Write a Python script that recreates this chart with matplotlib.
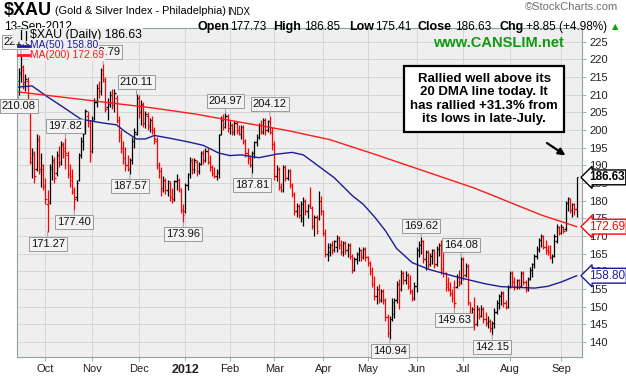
import numpy as np
import pandas as pd
import matplotlib
matplotlib.use('Agg')
import matplotlib.pyplot as plt
import matplotlib.transforms as mtrans
from matplotlib.lines import Line2D

plt.rcParams['font.family'] = ['Liberation Sans', 'DejaVu Sans']

# trading days shown (Sep 15 2011 .. Sep 13 2012)
holidays = ['2011-11-24', '2011-12-26', '2012-01-02', '2012-01-16', '2012-02-20',
            '2012-04-06', '2012-05-28', '2012-07-04', '2012-09-03']
dates = pd.bdate_range('2011-09-15', '2012-09-13')
dates = dates[~dates.isin(pd.to_datetime(holidays))]

# daily OHLC
opens = [214.0, 216.0, 217.0, 213.5, 214.0, 206.0, 191.0, 193.0, 189.0, 197.0, 189.0, 189.0,
         184.0, 179.0, 180.0, 189.0, 191.0, 188.0, 193.0, 191.0, 195.5, 195.0, 193.0, 187.5, 187.0, 182.5, 181.0, 186.0, 193.0, 197.0, 200.0, 204.0, 202.0,
         194.0, 203.5, 208.0, 212.0, 211.0, 216.0, 214.0, 206.5, 208.0, 210.0, 207.0, 209.0, 203.0, 198.5, 195.0, 192.0, 190.0, 189.0, 191.5, 197.0, 199.0,
         209.0, 205.0, 207.0, 202.0, 204.0, 201.5, 203.0, 200.0, 197.0, 190.0, 188.5, 183.5, 186.0, 183.0, 185.0, 181.0, 180.5, 185.5, 186.0, 183.0, 177.5,
         177.0, 184.5, 187.5, 191.0, 189.0, 191.0, 188.5, 190.5, 193.5, 191.5, 194.0, 191.0, 189.5, 188.0, 187.0, 188.0, 199.0, 203.0, 201.0, 204.0,
         200.5, 201.5, 199.5, 202.0, 200.0, 199.0, 201.0, 197.0, 193.5, 192.0, 190.0, 193.5, 196.5, 198.0, 201.5, 199.5, 203.0, 200.0, 202.5, 199.5,
         196.0, 187.0, 189.0, 184.0, 183.0, 189.5, 186.5, 188.5, 184.5, 182.0, 177.0, 178.5, 176.0, 175.0, 180.0, 177.0, 179.0, 178.0, 173.0, 175.5, 175.0, 180.0,
         177.0, 171.0, 165.0, 165.5, 167.5, 166.0, 167.0, 169.5, 167.5, 165.5, 168.0, 166.0, 167.5, 164.5, 160.5, 163.5, 165.0, 166.0, 164.0, 166.5,
         164.0, 162.5, 160.0, 156.5, 153.0, 155.0, 152.0, 154.5, 152.0, 147.0, 142.5, 146.5, 148.0, 152.0, 156.5, 155.0, 159.5, 157.5, 159.0, 156.0, 154.5, 152.5,
         156.0, 166.0, 167.5, 168.5, 163.5, 165.5, 162.0, 164.5, 166.0, 162.0, 166.5, 167.5, 161.0, 159.5, 156.5, 155.0, 154.0, 155.5, 155.5, 158.5, 157.0,
         163.5, 159.0, 161.5, 151.5, 147.5, 149.5, 145.0, 149.5, 147.5, 149.5, 146.5, 145.5, 146.0, 144.0, 145.5, 148.5, 151.0, 153.0, 154.0, 151.0, 150.0,
         155.5, 159.5, 157.0, 155.5, 157.5, 156.0, 159.5, 157.0, 155.0, 158.0, 160.5, 162.0, 164.5, 166.5, 169.0, 170.0, 167.0, 166.0, 165.5, 164.0, 164.5, 168.5, 172.5,
         171.0, 172.5, 172.0, 179.5, 180.5, 177.5, 179.0, 177.73]
highs = [217.5, 221.6, 218.5, 216.0, 215.0, 207.5, 195.0, 194.0, 199.0, 198.5, 193.5, 190.5,
         186.5, 183.0, 190.5, 193.0, 192.5, 194.0, 195.5, 197.0, 196.5, 197.82, 194.0, 190.5, 189.0, 184.0, 186.0, 193.5, 198.0, 200.0, 206.0, 205.5, 203.0,
         204.0, 209.0, 213.0, 214.0, 217.5, 218.79, 215.0, 209.0, 211.0, 211.5, 211.5, 210.0, 204.0, 200.0, 197.0, 195.3, 193.0, 192.0, 198.0, 200.5, 210.11,
         209.8, 208.5, 208.0, 205.5, 205.0, 203.5, 204.0, 201.0, 198.0, 191.0, 189.5, 187.0, 186.5, 186.0, 185.5, 183.5, 186.0, 187.5, 186.5, 183.5, 179.0,
         185.0, 188.0, 192.5, 192.0, 192.0, 191.5, 191.0, 194.0, 194.5, 195.0, 195.0, 193.0, 190.0, 189.5, 189.0, 199.0, 204.0, 204.5, 204.97, 204.5,
         202.5, 202.0, 202.5, 202.5, 201.5, 201.5, 201.5, 197.5, 195.0, 193.0, 194.0, 197.0, 199.0, 202.0, 203.0, 203.5, 203.5, 203.0, 204.12, 201.0,
         197.0, 190.0, 189.5, 185.0, 190.0, 190.0, 189.0, 189.0, 185.0, 182.5, 179.5, 179.0, 180.0, 181.0, 180.5, 179.0, 183.8, 178.5, 176.0, 176.0, 182.8, 181.5,
         177.5, 172.0, 168.0, 168.0, 168.5, 169.0, 170.4, 170.0, 169.0, 168.5, 168.5, 168.0, 168.0, 165.0, 164.0, 165.6, 166.8, 166.5, 167.0, 167.0,
         164.4, 163.0, 161.2, 158.8, 156.0, 156.5, 155.0, 155.0, 152.5, 148.0, 147.5, 152.5, 152.5, 157.3, 158.0, 160.5, 160.0, 160.0, 159.5, 158.9, 155.0, 157.0,
         166.8, 168.5, 169.62, 169.0, 166.0, 166.0, 165.2, 166.5, 166.5, 167.3, 168.0, 168.9, 165.5, 159.8, 158.5, 157.0, 155.0, 157.7, 159.3, 160.5, 164.08,
         164.0, 162.5, 162.0, 151.5, 150.0, 152.9, 150.5, 150.0, 150.5, 150.0, 148.5, 147.3, 146.5, 146.0, 149.7, 152.0, 153.7, 154.5, 154.5, 152.0, 156.1,
         160.1, 160.0, 158.4, 158.0, 158.0, 160.1, 160.0, 157.5, 158.5, 161.2, 162.5, 165.0, 167.3, 169.5, 170.7, 170.3, 169.0, 167.5, 167.5, 165.0, 170.7, 173.4, 173.0,
         173.4, 173.0, 180.0, 181.2, 180.8, 179.4, 179.5, 186.85]
lows = [210.08, 213.5, 211.5, 211.0, 206.5, 190.5, 186.5, 185.0, 188.5, 187.5, 184.0, 183.0,
        179.0, 171.27, 179.0, 186.0, 185.0, 187.0, 189.5, 190.0, 192.0, 189.0, 186.5, 184.0, 182.0, 177.40, 180.0, 185.5, 192.0, 194.5, 199.0, 201.0, 191.0,
        193.5, 203.0, 206.5, 209.0, 210.0, 213.5, 205.0, 203.0, 206.5, 206.0, 205.0, 202.0, 196.5, 193.5, 190.5, 188.5, 188.3, 187.57, 190.5, 195.0, 198.5,
        203.5, 201.5, 201.0, 200.5, 200.0, 199.5, 199.0, 196.0, 189.0, 186.5, 181.5, 182.5, 182.0, 181.5, 180.0, 179.5, 180.0, 183.0, 182.5, 176.5, 173.96,
        176.5, 183.0, 186.5, 187.5, 188.0, 187.0, 187.5, 190.0, 190.5, 191.0, 190.5, 188.5, 187.0, 186.5, 186.0, 186.5, 198.5, 200.0, 200.5, 199.5,
        199.0, 198.5, 198.5, 199.0, 198.5, 197.5, 196.0, 192.5, 190.5, 189.5, 187.81, 192.0, 195.5, 197.5, 199.0, 199.0, 198.5, 199.5, 199.0, 194.5,
        186.0, 185.5, 183.0, 182.5, 182.5, 185.5, 185.8, 183.5, 181.0, 176.0, 175.5, 175.0, 174.0, 173.0, 176.0, 175.0, 177.9, 172.0, 170.0, 170.5, 174.5, 176.0,
        170.0, 164.0, 163.0, 164.5, 165.0, 165.5, 165.6, 166.5, 164.8, 164.5, 165.0, 164.0, 163.5, 159.7, 160.0, 162.0, 163.0, 163.0, 163.5, 162.9,
        161.6, 159.0, 155.6, 152.0, 150.9, 151.0, 151.5, 150.9, 146.0, 141.5, 140.94, 146.0, 146.9, 151.0, 149.3, 154.5, 156.5, 156.5, 155.0, 153.5, 151.7, 152.0,
        154.1, 164.0, 165.0, 162.5, 160.5, 161.0, 161.5, 162.0, 161.0, 161.5, 164.5, 159.3, 158.5, 154.5, 154.5, 153.0, 151.5, 149.63, 155.3, 156.0, 156.5,
        157.7, 158.5, 150.5, 146.5, 146.5, 143.3, 144.5, 146.5, 147.0, 145.5, 144.5, 144.0, 143.0, 142.15, 144.1, 148.0, 149.5, 150.5, 150.0, 149.5, 149.8,
        155.3, 156.0, 154.8, 155.0, 155.0, 155.5, 156.1, 154.2, 154.5, 157.5, 158.4, 161.0, 163.5, 165.5, 167.0, 166.5, 165.0, 164.8, 163.5, 162.5, 164.0, 168.0, 170.3,
        170.5, 170.8, 171.5, 177.0, 176.5, 175.3, 176.0, 175.41]
closes = [216.5, 218.0, 213.0, 214.5, 208.0, 192.0, 193.5, 187.0, 197.5, 188.5, 190.0, 184.5,
          180.5, 179.5, 189.5, 191.5, 186.5, 193.0, 190.5, 196.0, 194.0, 193.5, 187.5, 186.0, 183.0, 180.5, 185.0, 193.0, 197.0, 199.0, 205.5, 203.0, 193.0,
          203.0, 208.0, 212.0, 211.0, 217.0, 214.5, 206.0, 207.5, 210.0, 207.0, 210.5, 203.0, 198.0, 195.0, 192.0, 190.0, 189.0, 191.5, 197.0, 199.5, 209.0,
          205.0, 207.5, 202.0, 204.5, 201.0, 203.0, 200.0, 197.5, 190.0, 188.5, 183.0, 186.0, 183.0, 185.5, 181.0, 180.0, 185.5, 186.0, 183.5, 177.5, 176.0,
          184.5, 187.5, 191.5, 189.0, 191.5, 188.5, 190.5, 193.5, 191.5, 194.0, 191.0, 189.5, 188.0, 187.0, 188.5, 198.5, 203.0, 201.0, 204.0, 200.5,
          201.5, 199.5, 202.0, 200.0, 199.0, 201.0, 197.0, 193.5, 192.0, 190.0, 193.5, 196.5, 198.0, 201.5, 199.5, 203.0, 200.0, 202.5, 199.5, 196.0,
          187.0, 189.0, 184.0, 183.0, 189.5, 186.5, 188.5, 184.5, 182.0, 177.0, 178.5, 176.0, 179.0, 180.0, 177.0, 178.5, 178.0, 173.0, 175.5, 171.5, 180.0, 177.0,
          171.0, 165.0, 167.0, 167.5, 166.0, 168.5, 169.5, 167.5, 165.5, 168.0, 166.0, 167.5, 164.5, 160.5, 163.5, 165.0, 166.0, 164.0, 166.5, 164.0,
          162.5, 160.0, 156.5, 153.0, 155.0, 152.0, 154.5, 152.0, 147.0, 142.5, 146.5, 151.5, 152.0, 156.5, 155.0, 159.5, 157.5, 159.0, 156.0, 154.5, 152.5, 156.0,
          166.0, 167.5, 168.5, 163.5, 165.5, 162.0, 164.5, 166.0, 162.0, 166.5, 167.5, 160.5, 159.5, 155.5, 155.0, 154.0, 152.5, 151.0, 158.5, 156.5, 163.5,
          159.0, 161.5, 151.5, 147.5, 149.5, 145.0, 149.5, 147.5, 149.5, 146.5, 145.5, 146.0, 144.0, 145.5, 148.5, 151.0, 153.0, 154.0, 151.0, 150.0, 155.5,
          159.5, 157.0, 155.5, 157.5, 156.0, 159.5, 157.0, 155.0, 158.0, 160.5, 162.0, 164.5, 166.5, 169.0, 170.0, 167.0, 166.0, 165.5, 164.0, 164.5, 170.0, 172.5, 171.0,
          172.5, 171.5, 179.5, 180.8, 177.5, 179.0, 177.78, 186.63]

# moving averages read at a few bars
ma50_idx = [0, 6, 13, 20, 28, 37, 44, 48, 53, 57, 61, 68, 76, 83, 90, 95, 100, 108, 116, 123,
            128, 133, 142, 150, 155, 160, 165, 170, 177, 185, 195, 202, 210, 217, 225, 232, 238, 244, 251]
ma50 = [212.2, 212.5, 209.4, 206.5, 203.1, 202.1, 201.5, 199.5, 197.5, 197.5, 198.5, 197.7, 196.7, 195.7, 193.5, 192.8, 193.0, 192.2, 193.2, 193.7,
        193.0, 190.7, 186.5, 181.5, 179.0, 175.5, 171.5, 166.5, 162.5, 160.5, 158.8, 157.7, 156.5, 155.7, 155.5, 155.3, 155.8, 157.0, 158.8]
ma200_idx = [0, 20, 40, 60, 80, 100, 120, 140, 160, 175, 190, 205, 220, 235, 251]
ma200 = [210.8, 209.3, 207.8, 206.3, 204.5, 202.2, 200.0, 197.3, 193.2, 190.0, 186.8, 183.6, 179.8, 176.0, 172.69]

# high / low value tags
tag_idx = [0, 1, 13, 21, 25, 38, 50, 53, 74, 93, 105, 113, 167, 181, 196, 199, 213]
tag_val = [210.08, 221.6, 171.27, 197.82, 177.40, 218.79, 187.57, 210.11, 173.96, 204.97, 187.81, 204.12,
           140.94, 169.62, 149.63, 164.08, 142.15]
tag_side = ['low', 'high', 'low', 'high', 'low', 'high', 'low', 'high', 'low', 'high', 'low', 'high',
            'low', 'high', 'low', 'high', 'low']

yticks = list(range(140, 226, 5))

W, H = 626, 377
def fx(px):
    return px / W
def fy(py):
    return 1 - py / H

fig = plt.figure(figsize=(W / 100, H / 100), dpi=100)
ax = fig.add_axes([fx(16.5), fy(357), fx(582) - fx(16.5), fy(28) - fy(357)])
ax.set_facecolor('#efefef')
for s in ax.spines.values():
    s.set_color('#8fa3a3')
    s.set_linewidth(0.8)

o = np.array(opens); h = np.array(highs); l = np.array(lows); c = np.array(closes)
x = np.arange(len(c))
prev = np.r_[o[0], c[:-1]]
col = np.where(c < prev, '#ff0000', '#000000')
ax.vlines(x, l, h, colors=col, lw=0.9, zorder=3)
ax.hlines(o, x - 0.55, x, colors=col, lw=0.9, zorder=3)
ax.hlines(c, x, x + 0.55, colors=col, lw=0.9, zorder=3)

ax.plot(ma50_idx, ma50, color='#1c1c96', lw=1.0, zorder=4)
ax.plot(ma200_idx, ma200, color='#ff1a1a', lw=1.0, zorder=4)

ax.set_xlim(-1.0, 253.4)
ax.set_ylim(135.8, 228.9)

# month ticks at first trading day
month_first = [i for i in range(1, len(dates)) if dates[i].month != dates[i - 1].month]
month_lab = [('2012' if dates[i].month == 1 else dates[i].strftime('%b')) for i in month_first]
ax.set_xticks(month_first)
ax.set_xticklabels(month_lab, fontsize=8, color='#222222')
for t in ax.get_xticklabels():
    if t.get_text() == '2012':
        t.set_fontweight('bold')
        t.set_fontsize(9)
ax.yaxis.tick_right()
ax.set_yticks(yticks)
ax.set_yticklabels([str(v) for v in yticks], fontsize=8, color='#222222')
ax.tick_params(axis='both', length=3, width=0.6, color='#8fa3a3', pad=2)
ax.grid(True, color='#d5d5d5', lw=0.7, zorder=0)
ax.set_axisbelow(True)

for i, v, side in zip(tag_idx, tag_val, tag_side):
    up = side == 'high'
    ax.annotate(f'{v:.2f}', xy=(i, v), xytext=(0, 5 if up else -5), textcoords='offset points',
                ha='center', va='bottom' if up else 'top', fontsize=8, color='#111111',
                bbox=dict(boxstyle='square,pad=0.18', fc='#f3f3f3', ec='#9a9a9a', lw=0.7),
                arrowprops=dict(arrowstyle='-', color='#9a9a9a', lw=0.7, shrinkA=0, shrinkB=0),
                annotation_clip=False, zorder=6)

# legend inside the plot (covers tags underneath)
leg_bg = dict(boxstyle='square,pad=0.1', fc='#efefef', ec='none')
fig.text(fx(30), fy(35), '$XAU (Daily) 186.63', fontsize=8.8, va='center', bbox=leg_bg, zorder=10)
fig.text(fx(30), fy(45.5), 'MA(50) 158.80', fontsize=7.4, va='center', color='#1c1c96', bbox=leg_bg, zorder=10)
fig.text(fx(30), fy(55), 'MA(200) 172.69', fontsize=7.4, va='center', color='#ff1a1a', bbox=leg_bg, zorder=10)
fig.add_artist(Line2D([fx(18), fx(29)], [fy(45.5), fy(45.5)], color='#1c1c96', lw=2, zorder=11))
fig.add_artist(Line2D([fx(18), fx(29)], [fy(55), fy(55)], color='#ff1a1a', lw=2, zorder=11))
fig.add_artist(Line2D([fx(17.5), fx(29)], [fy(35), fy(35)], color='#efefef', lw=9, zorder=10))
for px, a, b in [(21, 30, 39), (26, 31, 40)]:
    fig.add_artist(Line2D([fx(px), fx(px)], [fy(a), fy(b)], color='black', lw=0.9, zorder=11))

# right side value flags
rt = mtrans.blended_transform_factory(ax.transAxes, ax.transData)
for v, clr, wt in [(186.63, 'black', 'bold'), (172.69, '#ff0000', 'normal'), (158.80, '#1c1c96', 'normal')]:
    ax.text(1.012, v, f'{v:.2f}', transform=rt, ha='left', va='center', fontsize=8.5, color=clr, weight=wt,
            bbox=dict(boxstyle='larrow,pad=0.12', fc='white', ec=clr, lw=1.0), zorder=7, clip_on=False)

# commentary box and arrow
fig.text(fx(484), fy(99), 'Rallied well above its\n20 DMA line today. It\nhas rallied +31.3% from\nits lows in late-July.',
         ha='center', va='center', fontsize=9.5, weight='bold', linespacing=1.15,
         bbox=dict(boxstyle='square,pad=0.5', fc='white', ec='black', lw=1.6), zorder=12)
ax.annotate('', xy=(247.0, 192.4), xytext=(236.6, 196.8),
            arrowprops=dict(arrowstyle='-|>', color='black', lw=1.6, mutation_scale=10), zorder=12)

fig.text(fx(498), fy(43), 'www.CANSLIM.net', ha='center', va='center', fontsize=10.5, weight='bold', color='#109a10', zorder=12)

# header
fig.text(fx(4), fy(10.5), '$XAU', fontsize=13, weight='bold', va='center')
fig.text(fx(55), fy(11.5), '(Gold & Silver Index - Philadelphia)', fontsize=7.8, va='center')
fig.text(fx(227), fy(12), 'INDX', fontsize=7, va='center')
fig.text(fx(4), fy(27), '13-Sep-2012', fontsize=8.5, va='center')
fig.text(fx(618), fy(7), '\u00a9StockCharts.com', ha='right', va='center', fontsize=8, color='#707070')
hdr = [(198, 'Open', 'bold'), (230, '177.73', 'normal'), (273, 'High', 'bold'), (304, '186.85', 'normal'),
       (349, 'Low', 'bold'), (375, '175.41', 'normal'), (418, 'Close', 'bold'), (455, '186.63', 'normal'),
       (499, 'Chg', 'bold'), (526, '+8.85 (+4.98%)', 'normal')]
for px, s, wt in hdr:
    fig.text(fx(px), fy(27), s, fontsize=9 if wt == 'bold' else 8.5, weight=wt, va='center')
fig.text(fx(612), fy(27), '\u25b2', fontsize=6, color='#00aa00', va='center', family=['DejaVu Sans'])

fig.savefig('out.png', dpi=100)
